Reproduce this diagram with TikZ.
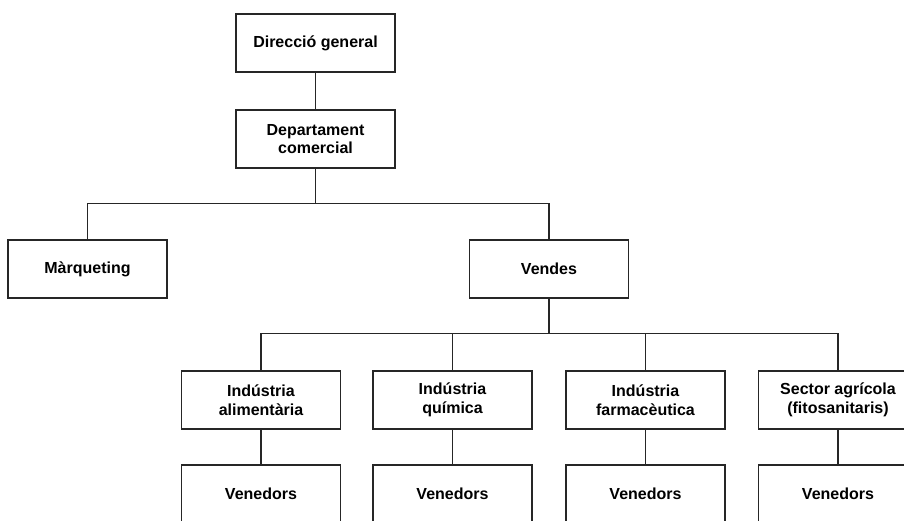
\documentclass[tikz,border=0pt]{standalone}
\usepackage{fontspec}
\setmainfont{Liberation Sans}
\begin{document}
\begin{tikzpicture}[x=1pt,y=-1pt,
  unit/.style={draw=black!85, line width=1.2pt, fill=white, rectangle,
    minimum width=159pt, minimum height=58pt, inner sep=0pt,
    align=center, font=\fontsize{16}{18.5}\selectfont\bfseries},
  link/.style={draw=black!85, line width=1.2pt}]
\useasboundingbox (0,0) rectangle (904,520);
\clip (0,0) rectangle (904,520);

% top of the hierarchy
\node[unit] (dir) at (315.5,43) {Direcció general};
\node[unit] (dep) at (315.5,139) {Departament\\comercial};
\node[unit] (mar) at (87.5,269) {Màrqueting};
\node[unit] (ven) at (549,269) {Vendes};

% sales sectors
\node[unit] (ia) at (261,400) {Indústria\\alimentària};
\node[unit] (iq) at (452.5,400) {Indústria\\química};
\node[unit] (if) at (645.5,400) {Indústria\\farmacèutica};
\node[unit] (sa) at (838,400) {Sector agrícola\\(fitosanitaris)};

% sales staff
\node[unit] (va) at (261,494) {Venedors};
\node[unit] (vq) at (452.5,494) {Venedors};
\node[unit] (vf) at (645.5,494) {Venedors};
\node[unit] (vs) at (838,494) {Venedors};

\draw[link] (dir) -- (dep);
\draw[link] (dep.south) -- ++(0,35) -| (mar.north);
\draw[link] (dep.south) -- ++(0,35) -| (ven.north);

\foreach \t in {ia,iq,if,sa}
  \draw[link] (ven.south) -- ++(0,35) -| (\t.north);

\draw[link] (ia) -- (va);
\draw[link] (iq) -- (vq);
\draw[link] (if) -- (vf);
\draw[link] (sa) -- (vs);
\end{tikzpicture}
\end{document}
